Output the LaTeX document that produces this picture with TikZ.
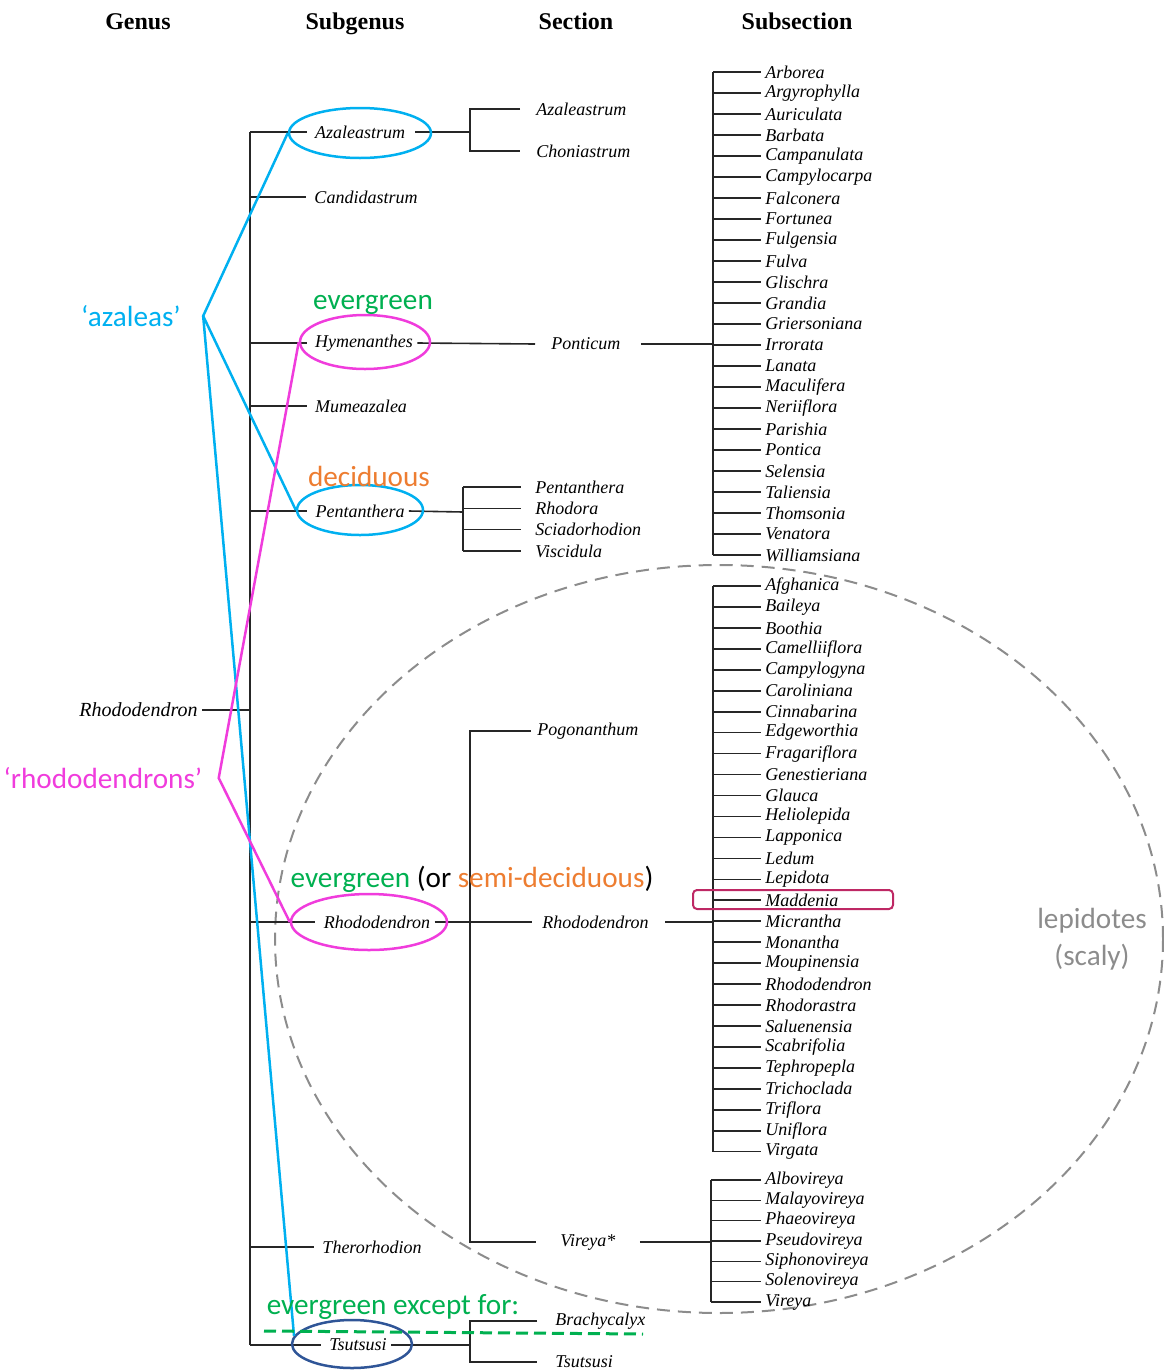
\documentclass[tikz,border=0pt]{standalone}
\usepackage{fontspec}
\setmainfont{Liberation Serif}
\newfontfamily\calibri{Carlito}
\usetikzlibrary{shapes.geometric}

\definecolor{azblue}{RGB}{0,176,240}
\definecolor{rhpink}{RGB}{240,60,220}
\definecolor{evgreen}{RGB}{0,176,80}
\definecolor{decorange}{RGB}{237,125,49}
\definecolor{tsublue}{RGB}{47,85,151}
\definecolor{lepgray}{RGB}{140,140,140}
\definecolor{madred}{RGB}{190,40,100}

\tikzset{
  head/.style={font=\fontsize{12}{14}\selectfont\bfseries, anchor=base},
  taxon/.style={font=\fontsize{9}{10}\selectfont\itshape, inner sep=2pt},
  note/.style={font=\calibri\fontsize{14.6}{18.5}\selectfont, inner sep=0pt},
  tree/.style={line width=0.8pt, black!85},
  ring/.style={draw=#1, ellipse, line width=1.25pt, inner sep=0pt},
  link/.style={line width=1.25pt, #1},
}

\begin{document}
\begin{tikzpicture}[x=0.5pt, y=-0.5pt]
    \useasboundingbox (0,0) rectangle (1163,1371);
    %lepidote group
    \node[draw=lepgray, ellipse, line width=1pt, dash pattern=on 6.5pt off 4pt,
          minimum width=444pt, minimum height=374pt] (lepCircle) at (719,939) {};
    \node[note, lepgray, align=center] (nLep) at (1092,939) {lepidotes\\(scaly)};

    %column headings
    \node[head] (hGenus) at (138,29) {Genus};
    \node[head] (hSubgenus) at (355,29) {Subgenus};
    \node[head] (hSection) at (576,29) {Section};
    \node[head] (hSubsection) at (797,29) {Subsection};

    %genus
    \node[taxon, font=\fontsize{10}{12}\selectfont\itshape, anchor=east] (genus) at (202,710) {Rhododendron};
    \coordinate (gTop) at (250,132);
    \coordinate (gBot) at (250,1345);
    \draw[tree] (gTop) -- (gBot);
    \draw[tree] (genus.east) -- (genus.east -| gTop);

    %subgenera
    \node[taxon] (sgAza) at (360,132) {Azaleastrum};
    \node[taxon] (sgCan) at (366,197) {Candidastrum};
    \node[taxon] (sgHym) at (364,343) {Hymenanthes};
    \node[taxon] (sgMum) at (361,406) {Mumeazalea};
    \node[taxon] (sgPen) at (360,511) {Pentanthera};
    \node[taxon] (sgRho) at (377,922) {Rhododendron};
    \node[taxon] (sgThe) at (372,1247) {Therorhodion};
    \node[taxon] (sgTsu) at (358,1345) {Tsutsusi};
    \foreach \s in {sgAza,sgCan,sgHym,sgMum,sgPen,sgRho,sgThe,sgTsu}
        \draw[tree] (\s.west -| gTop) -- ([xshift=-2pt]\s.west);

    %sections of Azaleastrum
    \coordinate (jAza) at (470,132);
    \node[taxon, anchor=west] (sAza) at (532,109) {Azaleastrum};
    \node[taxon, anchor=west] (sCho) at (532,151) {Choniastrum};
    \draw[tree] ([xshift=3pt]sgAza.east) -- (jAza);
    \draw[tree] ([xshift=-6pt]sAza.west) -| (jAza) |- ([xshift=-6pt]sCho.west);

    %sections of Pentanthera
    \coordinate (jPen) at (463,512);
    \draw[tree] (sgPen.east) -- (jPen);
    \foreach \n [count=\i] in {Pentanthera,Rhodora,Sciadorhodion,Viscidula}{
        \node[taxon, anchor=west] (p\i) at (531,{487+21.3*(\i-1)}) {\n};
        \draw[tree] (p\i.west -| jPen) -- ([xshift=-5pt]p\i.west);
    }
    \draw[tree] (p1.west -| jPen) -- (p4.west -| jPen);

    %Hymenanthes: Ponticum
    \coordinate (hv) at (713,72);
    \node[taxon, anchor=west] (sPon) at (547,344) {Ponticum};
    \draw[tree] (sgHym.east) -- ([xshift=-6pt]sPon.west);
    \draw[tree] ([xshift=8pt]sPon.east) -- (sPon.east -| hv);
    \foreach \n [count=\i] in {Arborea,Argyrophylla,Auriculata,Barbata,Campanulata,
        Campylocarpa,Falconera,Fortunea,Fulgensia,Fulva,Glischra,Grandia,Griersoniana,
        Irrorata,Lanata,Maculifera,Neriiflora,Parishia,Pontica,Selensia,Taliensia,
        Thomsonia,Venatora,Williamsiana}{
        \node[taxon, anchor=west] (h\i) at (761,{72+21*(\i-1)}) {\n};
        \draw[tree] (h\i.west -| hv) -- (h\i.west);
    }
    \draw[tree] (h1.west -| hv) -- (h24.west -| hv);

    %sections of Rhododendron
    \coordinate (jRho) at (470,922);
    \coordinate (lv) at (713,586);
    \coordinate (vv) at (711,1180);
    \node[taxon, anchor=west] (sPog) at (533,731) {Pogonanthum};
    \node[taxon, anchor=west] (sRho) at (538,922) {Rhododendron};
    \node[taxon, anchor=west] (sVir) at (556,1242) {Vireya*};
    \draw[tree] (sgRho.east) -- ([xshift=-3pt]sRho.west);
    \draw[tree] ([xshift=-1pt]sPog.west) -| (jRho) |- ([xshift=-10pt]sVir.west);
    \draw[tree] ([xshift=6pt]sRho.east) -- (sRho.east -| lv);
    \draw[tree] ([xshift=10pt]sVir.east) -- (sVir.east -| vv);
    \foreach \n [count=\i] in {Afghanica,Baileya,Boothia,Camelliiflora,Campylogyna,
        Caroliniana,Cinnabarina,Edgeworthia,Fragariflora,Genestieriana,Glauca,
        Heliolepida,Lapponica,Ledum,Lepidota,Maddenia,Micrantha,Monantha,Moupinensia,
        Rhododendron,Rhodorastra,Saluenensia,Scabrifolia,Tephropepla,Trichoclada,
        Triflora,Uniflora,Virgata}{
        \node[taxon, anchor=west] (l\i) at (761,{586+20.95*(\i-1)}) {\n};
        \draw[tree] (l\i.west -| lv) -- (l\i.west);
    }
    \draw[tree] (l1.west -| lv) -- (l28.west -| lv);
    \foreach \n [count=\i] in {Albovireya,Malayovireya,Phaeovireya,Pseudovireya,
        Siphonovireya,Solenovireya,Vireya}{
        \node[taxon, anchor=west] (v\i) at (761,{1180+20.33*(\i-1)}) {\n};
        \draw[tree] (v\i.west -| vv) -- (v\i.west);
    }
    \draw[tree] (v1.west -| vv) -- (v7.west -| vv);
    \draw[madred, line width=1pt, rounded corners=2pt] (693,890) rectangle (893,909);

    %sections of Tsutsusi
    \coordinate (jTsu) at (470,1345);
    \node[taxon, anchor=west] (sBra) at (551,1321) {Brachycalyx};
    \node[taxon, anchor=west] (sTsu) at (551,1362) {Tsutsusi};
    \draw[tree, line width=1pt] (sgTsu.east) -- (jTsu);
    \draw[tree] ([xshift=-7pt]sBra.west) -| (jTsu) |- ([xshift=-7pt]sTsu.west);

    %highlights
    \node[ring=azblue, minimum width=71pt, minimum height=25pt] (azaRing) at (360,133) {};
    \node[ring=rhpink, minimum width=65pt, minimum height=27pt] (hymRing) at (365,342) {};
    \node[ring=azblue, minimum width=63pt, minimum height=25pt] (penRing) at (360,510) {};
    \node[ring=rhpink, minimum width=78pt, minimum height=28pt] (rhoRing) at (369,922) {};
    \node[ring=tsublue, minimum width=60pt, minimum height=24pt] (tsuRing) at (352,1344) {};

    \node[note, azblue] (azaleas) at (131,316) {‘azaleas’};
    \coordinate (azp) at ([xshift=11pt]azaleas.east);
    \draw[link=azblue] (azaRing.west) -- (azp) -- (penRing.west);
    \draw[link=azblue] (azp) -- (tsuRing.172);

    \node[note, rhpink] (rhodos) at (103,778) {‘rhododendrons’};
    \coordinate (rhp) at ([xshift=8pt]rhodos.east);
    \draw[link=rhpink] (hymRing.west) -- (rhp) -- (rhoRing.west);

    %leaf habit
    \node[note, evgreen] (nEver1) at (373,305) {evergreen};
    \node[note, decorange] (nDec) at (369,476) {deciduous};
    \node[note] (nEver2) at (472,879) {\textcolor{evgreen}{evergreen} (or \textcolor{decorange}{semi-deciduous})};
    \node[note, evgreen] (nEver3) at (393,1307) {evergreen except for:};
    \draw[evgreen, line width=1.5pt, dash pattern=on 6pt off 3pt] (264,1331) -- (643,1334);
\end{tikzpicture}
\end{document}
